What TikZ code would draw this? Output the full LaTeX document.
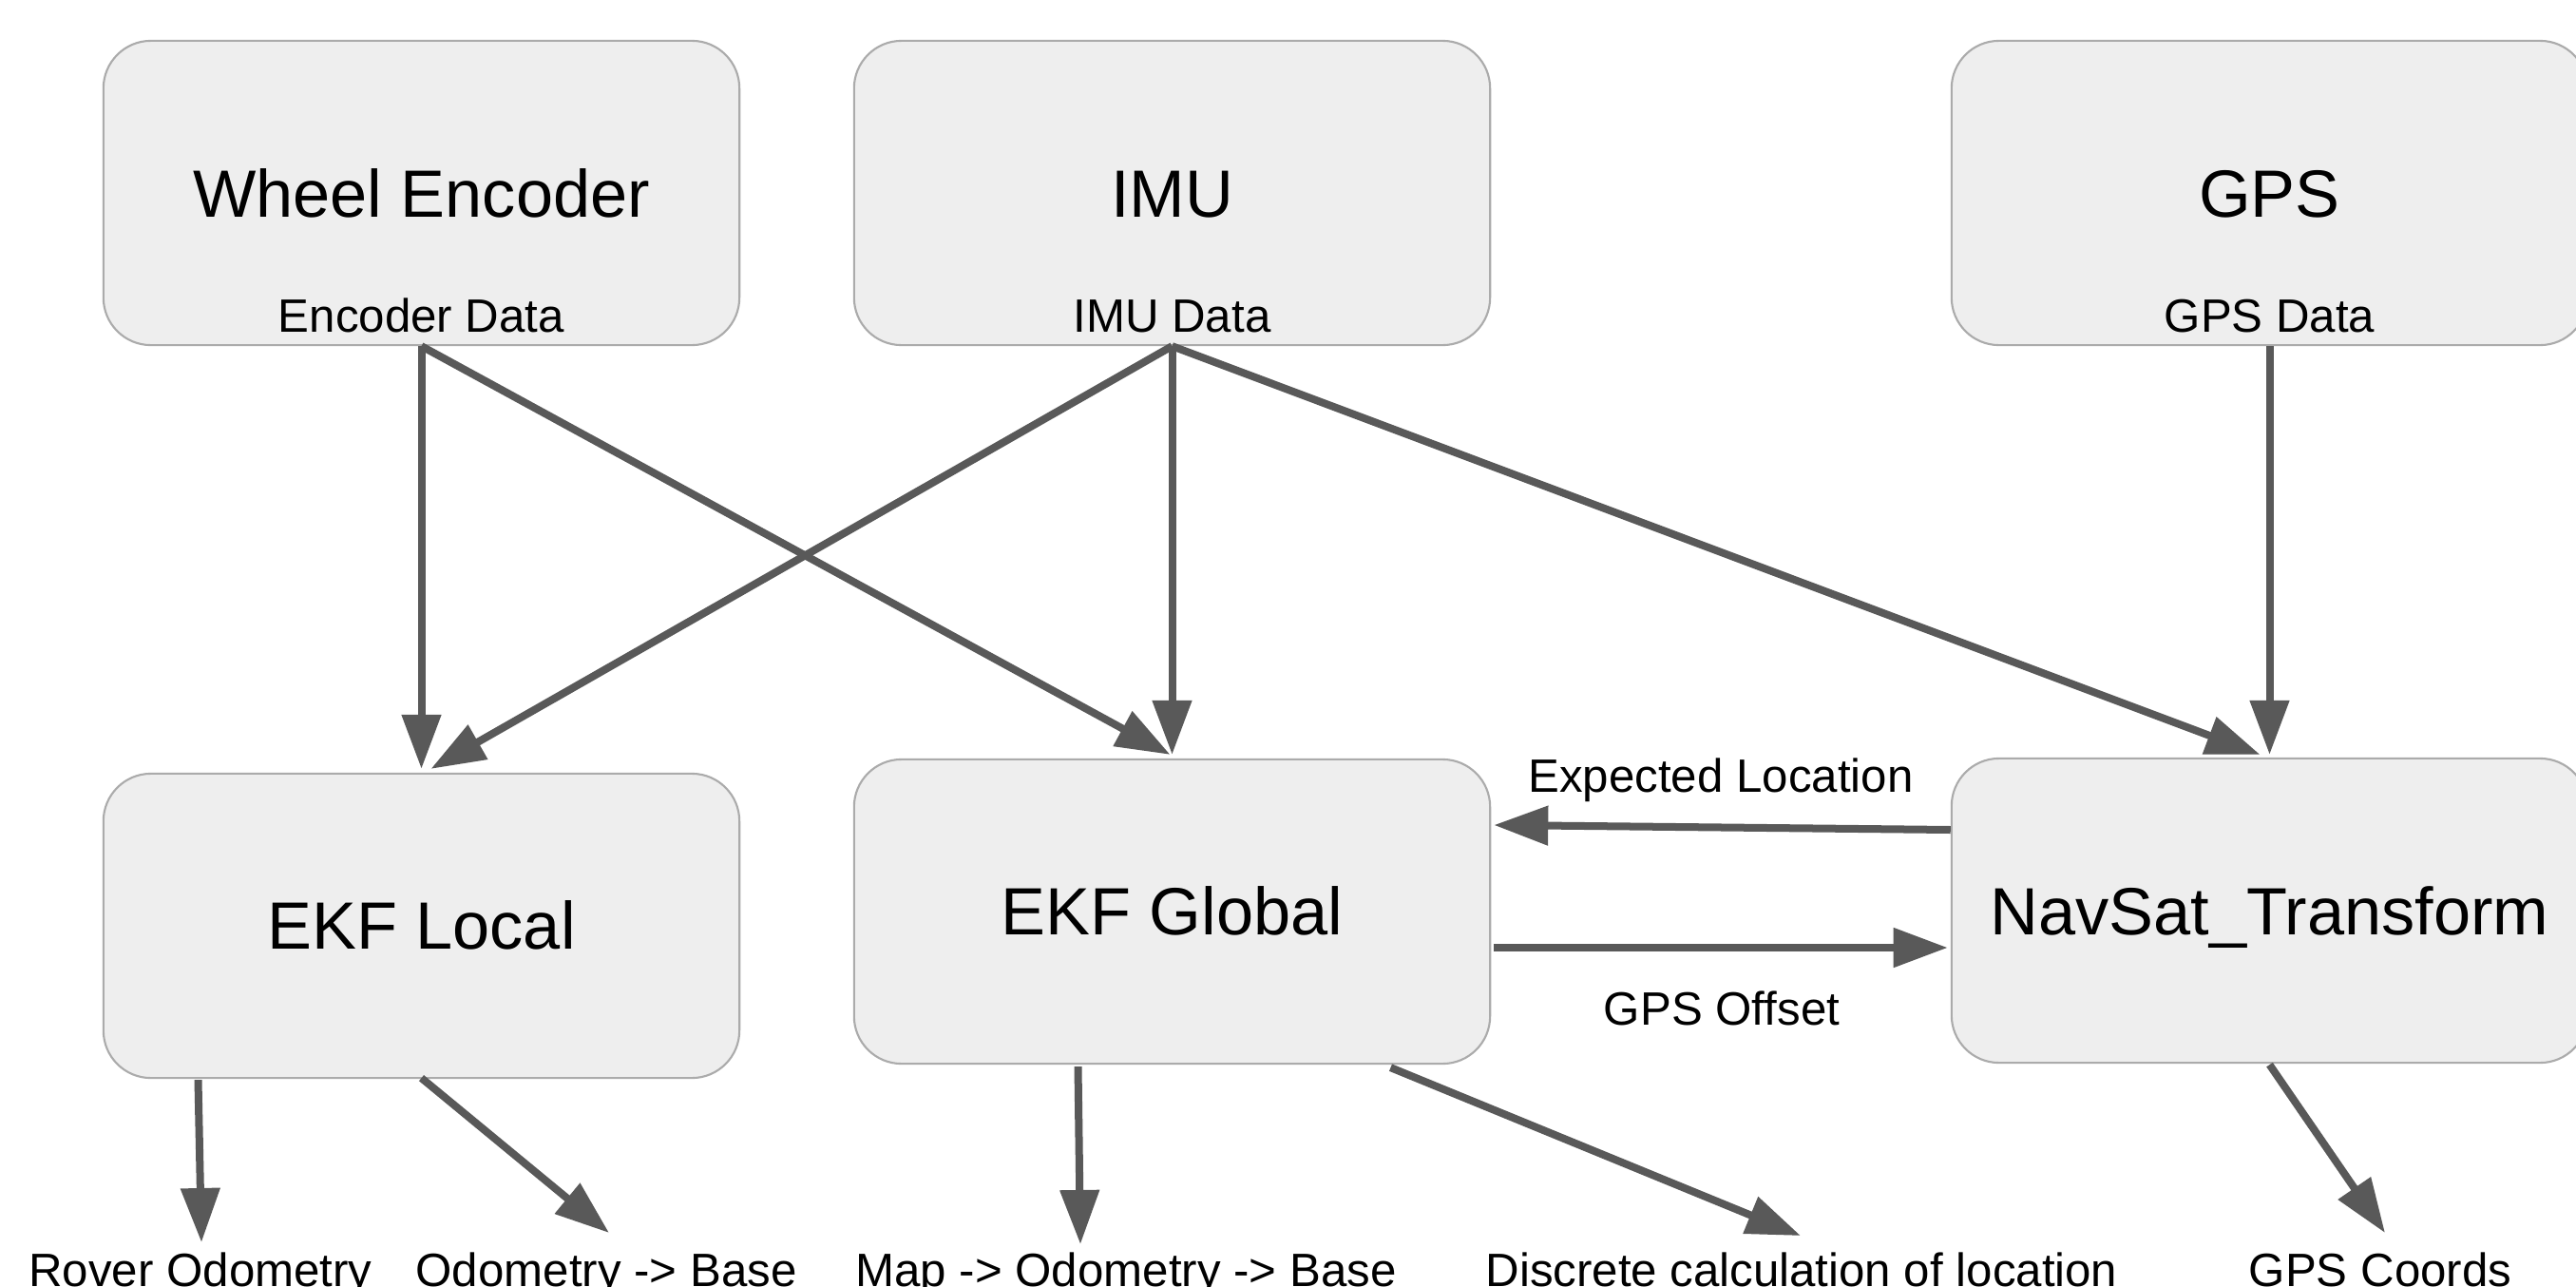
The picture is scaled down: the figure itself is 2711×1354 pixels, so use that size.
\documentclass[tikz,border=0pt]{standalone}
\usepackage{fontspec}
\setmainfont{Liberation Sans}
\usetikzlibrary{arrows.meta,calc}
\definecolor{boxfill}{HTML}{EEEEEE}
\definecolor{boxline}{HTML}{ABABAB}
\definecolor{arrowc}{HTML}{595959}
\begin{document}
\begin{tikzpicture}[x=0.01cm,y=-0.01cm,
  blk/.style={draw=boxline, line width=0.6pt, fill=boxfill, rounded corners=0.5cm,
    minimum width=6.69cm, minimum height=3.2cm, inner sep=0pt},
  ttl/.style={anchor=base, inner sep=0pt, font=\fontsize{20pt}{24pt}\selectfont},
  sub/.style={anchor=base, inner sep=0pt, font=\fontsize{14pt}{17pt}\selectfont},
  arr/.style={draw=arrowc, line width=0.08cm, -{Triangle[length=0.57cm,width=0.4cm]}}
]
\useasboundingbox (0,0) rectangle (2711,1354);

% boxes
\node[blk] (enc)  at (443.5,203) {};
\node[blk] (imu)  at (1233.5,203) {};
\node[blk] (gps)  at (2388.5,203) {};
\node[blk] (ekfl) at (443.5,974) {};
\node[blk] (ekfg) at (1233.5,959) {};
\node[blk] (nav)  at (2388.5,958) {};

% titles
\node[ttl] (encT)  at ($(enc.center)+(0,25)$) {Wheel Encoder};
\node[ttl] (imuT)  at ($(imu.center)+(0,25)$) {IMU};
\node[ttl] (gpsT)  at ($(gps.center)+(0,25)$) {GPS};
\node[ttl] (ekflT) at ($(ekfl.center)+(0,24)$) {EKF Local};
\node[ttl] (ekfgT) at ($(ekfg.center)+(0,24)$) {EKF Global};
\node[ttl] (navT)  at ($(nav.center)+(0,25)$) {NavSat\_Transform};

% subtitles
\node[sub] (encS) at ($(enc.south)+(0,-15)$) {Encoder Data};
\node[sub] (imuS) at ($(imu.south)+(0,-15)$) {IMU Data};
\node[sub] (gpsS) at ($(gps.south)+(0,-15)$) {GPS Data};

% arrows from sensors
\draw[arr] (enc.south) -- ($(ekfl.north)+(0,-4)$);
\draw[arr] (enc.south) -- ($(ekfg.north)+(-2,-4)$);
\draw[arr] (imu.south) -- ($(ekfl.north)+(10,-4)$);
\draw[arr] (imu.south) -- ($(ekfg.north)+(0,-4)$);
\draw[arr] (imu.south) -- ($(nav.north)+(-10,-3)$);
\draw[arr] (gps.south) -- ($(nav.north)+(0,-3)$);

% between EKF Global and NavSat
\draw[arr] ($(nav.west)+(0,-85)$) -- ($(ekfg.east)+(3,-91)$);
\draw[arr] ($(ekfg.east)+(3,38)$) -- ($(nav.west)+(-3,39)$);
\node[sub] (expL) at (1811,833) {Expected Location};
\node[sub] (gpsO) at (1812,1078) {GPS Offset};

% outputs
\coordinate (t1) at (212,1307);
\coordinate (t2) at (641,1297);
\coordinate (t3) at (1137,1309);
\coordinate (t4) at (1895,1300);
\coordinate (t5) at (2510,1297);
\draw[arr] ($(ekfl.south)+(-235,1)$) -- (t1);
\draw[arr] ($(ekfl.south)+(0,-1)$) -- (t2);
\draw[arr] ($(ekfg.south)+(-99,2)$) -- (t3);
\draw[arr] ($(ekfg.south)+(230,3)$) -- (t4);
\draw[arr] ($(nav.south)+(0,1)$) -- (t5);

\node[sub] (o1) at (211,1353) {Rover Odometry};
\node[sub] (o2) at (638,1353) {Odometry -> Base};
\node[sub] (o3) at (1185,1353) {Map -> Odometry -> Base};
\node[sub] (o4) at (1896,1353) {Discrete calculation of location};
\node[sub] (o5) at (2505,1353) {GPS Coords};
\end{tikzpicture}
\end{document}
